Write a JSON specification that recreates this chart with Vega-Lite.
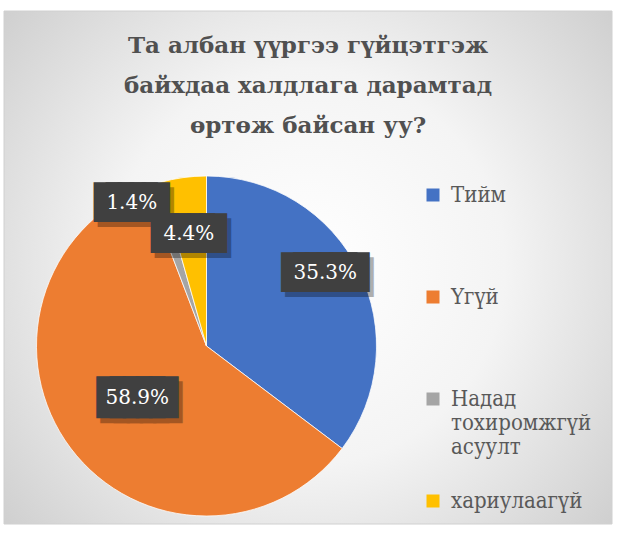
{
  "$schema": "https://vega.github.io/schema/vega-lite/v6.json",
  "width": 608,
  "height": 513,
  "autosize": {"type": "none"},
  "padding": {"left": 4, "top": 11, "right": 9, "bottom": 19},
  "background": "#ffffff",
  "config": {"view": {"stroke": null}},
  "title": {
    "text": ["Та албан үүргээ гүйцэтгэж", "байхдаа халдлага дарамтад", "өртөж байсан уу?"],
    "font": "DejaVu Serif",
    "fontSize": 23,
    "fontWeight": "bold",
    "color": "#505050",
    "lineHeight": 40,
    "anchor": "middle",
    "baseline": "top",
    "offset": -127
  },
  "datasets": {
    "pie": [
      {"cat": "Тийм", "share": 0.353, "idx": 1},
      {"cat": "Үгүй", "share": 0.589, "idx": 2},
      {"cat": "Надад тохиромжгүй асуулт", "share": 0.014, "idx": 3},
      {"cat": "хариулаагүй", "share": 0.044, "idx": 4}
    ]
  },
  "layer": [
    {
      "data": {"values": [{"bg": 1}]},
      "mark": {
        "type": "rect",
        "stroke": "#d0d0d0",
        "strokeWidth": 1,
        "fill": {
          "gradient": "radial",
          "x1": 0.5, "y1": 0.5, "r1": 0,
          "x2": 0.5, "y2": 0.5, "r2": 0.72,
          "stops": [
            {"offset": 0, "color": "#ffffff"},
            {"offset": 0.45, "color": "#f4f4f4"},
            {"offset": 1, "color": "#c8c8c8"}
          ]
        }
      },
      "encoding": {}
    },
    {
      "data": {"name": "pie"},
      "mark": {"type": "arc", "radius": 170, "x": 202.5, "y": 335, "stroke": "#ffffff", "strokeWidth": 0.75},
      "encoding": {
        "theta": {"field": "share", "type": "quantitative", "stack": true},
        "order": {"field": "idx", "type": "quantitative"},
        "color": {
          "field": "cat",
          "type": "nominal",
          "scale": {
            "domain": ["Тийм", "Үгүй", "Надад тохиромжгүй асуулт", "хариулаагүй"],
            "range": ["#4472C4", "#ED7D31", "#A5A5A5", "#FFC000"]
          },
          "legend": {
            "title": null,
            "orient": "none",
            "legendX": 418,
            "legendY": 173,
            "padding": 0,
            "symbolType": "square",
            "symbolSize": 169,
            "symbolStrokeWidth": 0,
            "labelFont": "DejaVu Serif Condensed",
            "labelFontSize": 22,
            "labelColor": "#595959",
            "labelLimit": 300,
            "labelOffset": 7,
            "gridAlign": "all",
            "rowPadding": 32,
            "labelExpr": "datum.label == 'Надад тохиромжгүй асуулт' ? ['Надад', 'тохиромжгүй', 'асуулт'] : datum.label"
          }
        }
      }
    },
    {
      "data": {"name": "pie"},
      "mark": {
        "type": "text", "x": 202.5, "y": 335,
        "font": "DejaVu Sans Mono", "align": "center", "baseline": "middle",
        "color": "#000000", "opacity": 0.3,
        "stroke": "#000000", "strokeWidth": 16, "strokeJoin": "miter", "strokeOpacity": 1,
        "radius": {"expr": "datum.cat == 'Тийм' ? 139.4 : datum.cat == 'Үгүй' ? 86.6 : datum.cat == 'Надад тохиромжгүй асуулт' ? 161 : 113.4"},
        "dx": {"expr": "(datum.cat == 'Тийм' ? -6 : datum.cat == 'Надад тохиромжгүй асуулт' ? -24 : datum.cat == 'хариулаагүй' ? -2 : 0) + 4"},
        "dy": {"expr": "(datum.cat == 'Тийм' ? -11 : datum.cat == 'Надад тохиромжгүй асуулт' ? 10 : 0) + 5"}
      },
      "encoding": {
        "theta": {"field": "share", "type": "quantitative", "stack": true},
        "order": {"field": "idx", "type": "quantitative"},
        "detail": {"field": "cat", "type": "nominal"},
        "size": {"condition": {"test": "datum.cat == 'Үгүй'", "value": 22}, "value": 20},
        "text": {"condition": {"test": "datum.cat == 'Тийм'", "value": "██████"}, "value": "█████"}
      }
    },
    {
      "data": {"name": "pie"},
      "mark": {
        "type": "text", "x": 202.5, "y": 335,
        "font": "DejaVu Sans Mono", "align": "center", "baseline": "middle",
        "color": "#404040",
        "stroke": "#404040", "strokeWidth": 16, "strokeJoin": "miter",
        "radius": {"expr": "datum.cat == 'Тийм' ? 139.4 : datum.cat == 'Үгүй' ? 86.6 : datum.cat == 'Надад тохиромжгүй асуулт' ? 161 : 113.4"},
        "dx": {"expr": "datum.cat == 'Тийм' ? -6 : datum.cat == 'Надад тохиромжгүй асуулт' ? -24 : datum.cat == 'хариулаагүй' ? -2 : 0"},
        "dy": {"expr": "datum.cat == 'Тийм' ? -11 : datum.cat == 'Надад тохиромжгүй асуулт' ? 10 : 0"}
      },
      "encoding": {
        "theta": {"field": "share", "type": "quantitative", "stack": true},
        "order": {"field": "idx", "type": "quantitative"},
        "detail": {"field": "cat", "type": "nominal"},
        "size": {"condition": {"test": "datum.cat == 'Үгүй'", "value": 22}, "value": 20},
        "text": {"condition": {"test": "datum.cat == 'Тийм'", "value": "██████"}, "value": "█████"}
      }
    },
    {
      "data": {"name": "pie"},
      "mark": {
        "type": "text", "x": 202.5, "y": 335,
        "font": "DejaVu Serif", "fontSize": 20, "align": "center", "baseline": "middle",
        "color": "#ffffff",
        "radius": {"expr": "datum.cat == 'Тийм' ? 139.4 : datum.cat == 'Үгүй' ? 86.6 : datum.cat == 'Надад тохиромжгүй асуулт' ? 161 : 113.4"},
        "dx": {"expr": "datum.cat == 'Тийм' ? -6 : datum.cat == 'Надад тохиромжгүй асуулт' ? -24 : datum.cat == 'хариулаагүй' ? -2 : 0"},
        "dy": {"expr": "datum.cat == 'Тийм' ? -11 : datum.cat == 'Надад тохиромжгүй асуулт' ? 10 : 0"}
      },
      "encoding": {
        "theta": {"field": "share", "type": "quantitative", "stack": true},
        "order": {"field": "idx", "type": "quantitative"},
        "detail": {"field": "cat", "type": "nominal"},
        "text": {"field": "share", "type": "quantitative", "format": ".1%"}
      }
    }
  ]
}
